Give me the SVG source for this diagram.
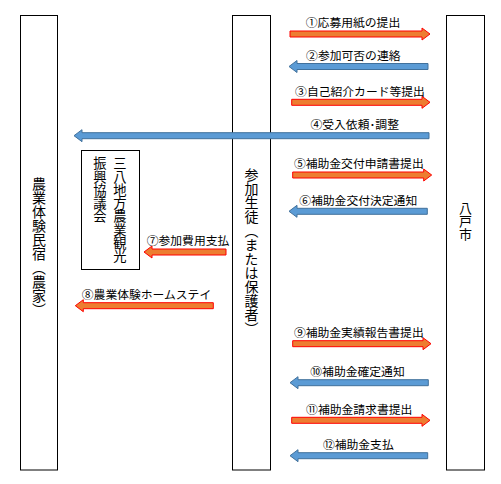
<svg xmlns="http://www.w3.org/2000/svg" width="501" height="484" viewBox="0 0 501 484">
<style>
.box{fill:#fff;stroke:#000;stroke-width:1}
.vt{font-family:"Noto Sans CJK JP","Noto Sans CJK SC",sans-serif;writing-mode:vertical-rl;fill:#000}
.lbl{font-family:"Noto Sans CJK JP","Noto Sans CJK SC",sans-serif;font-size:11.8px;fill:#000;text-anchor:middle}
.or{fill:#ED7D31;stroke:#FF0000;stroke-width:1}
.bl{fill:#5B9BD5;stroke:#41719C;stroke-width:1}
</style>
<rect width="501" height="484" fill="#fff"/>
<g id="farm">
<rect class="box" x="20.5" y="15.5" width="37" height="454.5"/>
<text class="vt" x="39" y="176.5" font-size="14">農業体験民宿（農家）</text>
</g>
<g id="council">
<rect class="box" x="81.5" y="150.5" width="58" height="119"/>
<text class="vt" x="120" y="156.5" font-size="13.3">三八地方農業観光</text>
<text class="vt" x="100" y="156.5" font-size="13.3">振興協議会</text>
</g>
<g id="student">
<rect class="box" x="232.5" y="15.5" width="38" height="454.5"/>
<text class="vt" x="251.5" y="168" font-size="14">参加生徒（または保護者）</text>
</g>
<g id="city">
<rect class="box" x="446.5" y="15.5" width="38" height="454.5"/>
<text class="vt" x="465.5" y="201.5" font-size="13">八戸市</text>
</g>
<g id="connectors">
<path class="or" d="M290,31 H422 V28 L430,34 L422,40 V37 H290 Z"/>
<text class="lbl" x="353" y="27.3">①応募用紙の提出</text>
<path class="bl" d="M428,63.5 H297 V60.5 L289,66.5 L297,72.5 V69.5 H428 Z"/>
<text class="lbl" x="353.3" y="59.7">②参加可否の連絡</text>
<path class="or" d="M291.7,99.3 H422 V96.3 L430,102.3 L422,108.3 V105.3 H291.7 Z"/>
<text class="lbl" x="360" y="95.5">③自己紹介カード等提出</text>
<path class="bl" d="M429,132.7 H82 V129.7 L74,135.7 L82,141.7 V138.7 H429 Z"/>
<text class="lbl" x="354.7" y="128.9">④受入依頼･調整</text>
<path class="or" d="M292.7,172 H423.7 V169 L431.7,175 L423.7,181 V178 H292.7 Z"/>
<text class="lbl" x="358.8" y="168.2">⑤補助金交付申請書提出</text>
<path class="bl" d="M427.3,208.3 H297 V205.3 L289,211.3 L297,217.3 V214.3 H427.3 Z"/>
<text class="lbl" x="358.2" y="204.5">⑥補助金交付決定通知</text>
<path class="or" d="M226,249 H152 V246 L144,252 L152,258 V255 H226 Z"/>
<text class="lbl" x="188" y="245.2">⑦参加費用支払</text>
<path class="or" d="M213.3,302.7 H83.3 V299.7 L75.3,305.7 L83.3,311.7 V308.7 H213.3 Z"/>
<text class="lbl" x="146.5" y="298.9">⑧農業体験ホームステイ</text>
<path class="or" d="M292.7,340.7 H423 V337.7 L431,343.7 L423,349.7 V346.7 H292.7 Z"/>
<text class="lbl" x="358.8" y="336.9">⑨補助金実績報告書提出</text>
<path class="bl" d="M428.3,379.7 H298 V376.7 L290,382.7 L298,388.7 V385.7 H428.3 Z"/>
<text class="lbl" x="357.5" y="375.9">⑩補助金確定通知</text>
<path class="or" d="M291.7,417.3 H422 V414.3 L430,420.3 L422,426.3 V423.3 H291.7 Z"/>
<text class="lbl" x="359.2" y="413.5">⑪補助金請求書提出</text>
<path class="bl" d="M427.7,452.7 H298 V449.7 L290,455.7 L298,461.7 V458.7 H427.7 Z"/>
<text class="lbl" x="358.3" y="448.9">⑫補助金支払</text>
</g>
</svg>
